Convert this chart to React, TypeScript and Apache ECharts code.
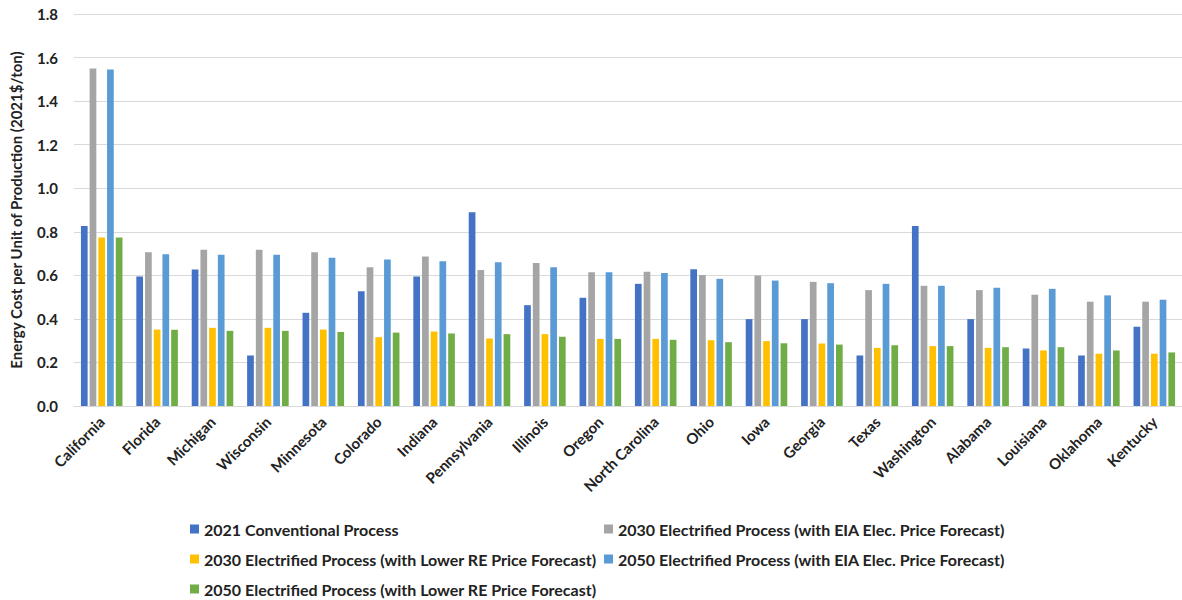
import React, { useEffect, useRef } from "react";
import * as echarts from "echarts";

const states = ["California", "Florida", "Michigan", "Wisconsin", "Minnesota", "Colorado", "Indiana", "Pennsylvania", "Illinois", "Oregon", "North Carolina", "Ohio", "Iowa", "Georgia", "Texas", "Washington", "Alabama", "Louisiana", "Oklahoma", "Kentucky"];

const seriesNames = [
  "2021 Conventional Process",
  "2030 Electrified Process (with EIA Elec. Price Forecast)",
  "2030 Electrified Process (with Lower RE Price Forecast)",
  "2050 Electrified Process (with EIA Elec. Price Forecast)",
  "2050 Electrified Process (with Lower RE Price Forecast)",
];

const conv2021 = [0.826, 0.595, 0.627, 0.232, 0.428, 0.527, 0.595, 0.89, 0.463, 0.497, 0.561, 0.628, 0.399, 0.399, 0.232, 0.826, 0.399, 0.264, 0.232, 0.364];
const eia2030 = [1.55, 0.706, 0.717, 0.717, 0.706, 0.637, 0.686, 0.625, 0.657, 0.614, 0.617, 0.602, 0.599, 0.57, 0.532, 0.552, 0.532, 0.511, 0.479, 0.479];
const re2030 = [0.774, 0.351, 0.359, 0.359, 0.351, 0.316, 0.342, 0.31, 0.33, 0.308, 0.308, 0.302, 0.298, 0.287, 0.267, 0.275, 0.267, 0.255, 0.24, 0.24];
const eia2050 = [1.545, 0.697, 0.694, 0.694, 0.681, 0.673, 0.665, 0.66, 0.637, 0.614, 0.611, 0.584, 0.576, 0.564, 0.561, 0.552, 0.543, 0.538, 0.508, 0.488];
const re2050 = [0.774, 0.35, 0.345, 0.345, 0.34, 0.337, 0.333, 0.33, 0.318, 0.308, 0.304, 0.293, 0.288, 0.282, 0.279, 0.275, 0.27, 0.27, 0.255, 0.246];

const colors = ["#4472C4", "#A5A5A5", "#FFC000", "#5B9BD5", "#70AD47"];
const yTicks = { min: 0, max: 1.8, interval: 0.2 };

const FONT = "Lato";
const TEXT = "#222";

export default function App() {
  const ref = useRef<HTMLDivElement>(null);
  useEffect(() => {
    if (!ref.current) return;
    const chart = echarts.init(ref.current, undefined, { renderer: "svg" });
    const values = [conv2021, eia2030, re2030, eia2050, re2050];
    const legendCommon = {
      orient: "vertical",
      top: 521,
      padding: 0,
      itemWidth: 9,
      itemHeight: 9,
      itemGap: 14,
      icon: "rect",
      textStyle: { fontFamily: FONT, fontWeight: "bold", fontSize: 16, color: TEXT, lineHeight: 16 },
    };
    chart.setOption({
      animation: false,
      textStyle: { fontFamily: FONT },
      grid: { left: 70, top: 14, width: 1118, height: 392, containLabel: false },
      legend: [
        { ...legendCommon, left: 190, data: [seriesNames[0], seriesNames[2], seriesNames[4]] },
        { ...legendCommon, left: 604, data: [seriesNames[1], seriesNames[3]] },
      ],
      xAxis: {
        type: "category",
        data: states,
        axisTick: { show: false },
        axisLine: { lineStyle: { color: "#D9D9D9", width: 1 } },
        axisLabel: { interval: 0, rotate: 45, fontFamily: FONT, fontWeight: "bold", fontSize: 15, color: TEXT, margin: 13 },
      },
      yAxis: {
        type: "value",
        min: yTicks.min,
        max: yTicks.max,
        interval: yTicks.interval,
        name: "Energy Cost per Unit of Production (2021$/ton)",
        nameLocation: "middle",
        nameRotate: 90,
        nameGap: 51,
        nameTextStyle: { fontFamily: FONT, fontWeight: "bold", fontSize: 15, color: TEXT },
        axisLabel: { formatter: (v: number) => v.toFixed(1), fontFamily: FONT, fontWeight: "bold", fontSize: 15, color: TEXT, margin: 16 },
        splitLine: { lineStyle: { color: "#D9D9D9", width: 1 } },
        axisLine: { show: false },
        axisTick: { show: false },
      },
      series: seriesNames.map((name, i) => ({
        name,
        type: "bar",
        data: values[i],
        itemStyle: { color: colors[i] },
        barGap: "30%",
        barCategoryGap: "25%",
      })),
    });
    return () => chart.dispose();
  }, []);
  return <div ref={ref} style={{ position: "fixed", left: 0, top: 0, width: 1182, height: 600, background: "#fff" }} />;
}
